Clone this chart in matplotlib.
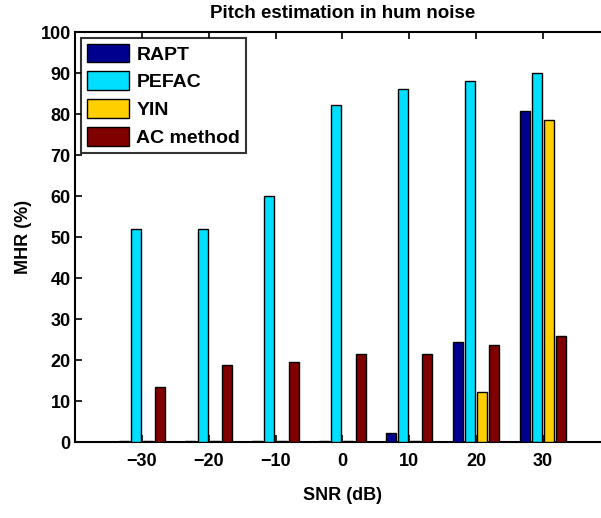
import numpy as np
import matplotlib
matplotlib.use("Agg")
import matplotlib.pyplot as plt

plt.rcParams['font.family'] = ['Liberation Sans', 'DejaVu Sans']
plt.rcParams['font.weight'] = 'bold'

# data
snr = [-30, -20, -10, 0, 10, 20, 30]
methods = ['RAPT', 'PEFAC', 'YIN', 'AC method']
rapt = [0.3, 0.3, 0.3, 0.3, 2.2, 24.3, 80.8]
pefac = [52.0, 52.0, 59.9, 82.3, 86.0, 88.0, 89.9]
yin = [0.3, 0.3, 0.3, 0.3, 0.3, 12.3, 78.5]
ac = [13.3, 18.8, 19.5, 21.4, 21.4, 23.6, 25.9]
colors = ['#00008F', '#00DFFF', '#FFCF00', '#800000']

fig = plt.figure(figsize=(6.01, 5.18), dpi=100)
ax = fig.add_axes([0.1248, 0.1467, 0.8897, 0.7915])

x = np.arange(1, len(snr) + 1)
slot = 0.182
for i, (vals, name) in enumerate(zip([rapt, pefac, yin, ac], methods)):
    ax.bar(x + (i - 1.5) * slot, vals, width=0.15, color=colors[i],
           edgecolor='black', linewidth=1.0, label=name, zorder=3)

ax.set_xlim(0, 8)
ax.set_ylim(0, 100)
ax.set_xticks(x)
ax.set_xticklabels([str(s).replace('-', '\u2212') for s in snr])
ax.set_yticks(np.arange(0, 101, 10))
ax.tick_params(direction='in', top=True, right=True, length=5, width=1.2,
               labelsize=13)
ax.tick_params(axis='y', pad=3)
ax.tick_params(axis='x', pad=8)
for sp in ax.spines.values():
    sp.set_linewidth(1.5)

ax.set_title('Pitch estimation in hum noise', fontsize=13.5, fontweight='bold', pad=10)
ax.set_xlabel('SNR (dB)', fontsize=13, fontweight='bold', labelpad=12)
ax.set_ylabel('MHR (%)', fontsize=13, fontweight='bold', labelpad=6)

leg = ax.legend(loc='upper left', fontsize=14, frameon=True, fancybox=False,
                edgecolor='black', handlelength=2.2, handleheight=1.1,
                borderaxespad=0.3, labelspacing=0.4, handletextpad=0.35,
                borderpad=0.3)
leg.get_frame().set_linewidth(1.5)
for t in leg.get_texts():
    t.set_fontweight('bold')

fig.savefig('out.png', dpi=100)
